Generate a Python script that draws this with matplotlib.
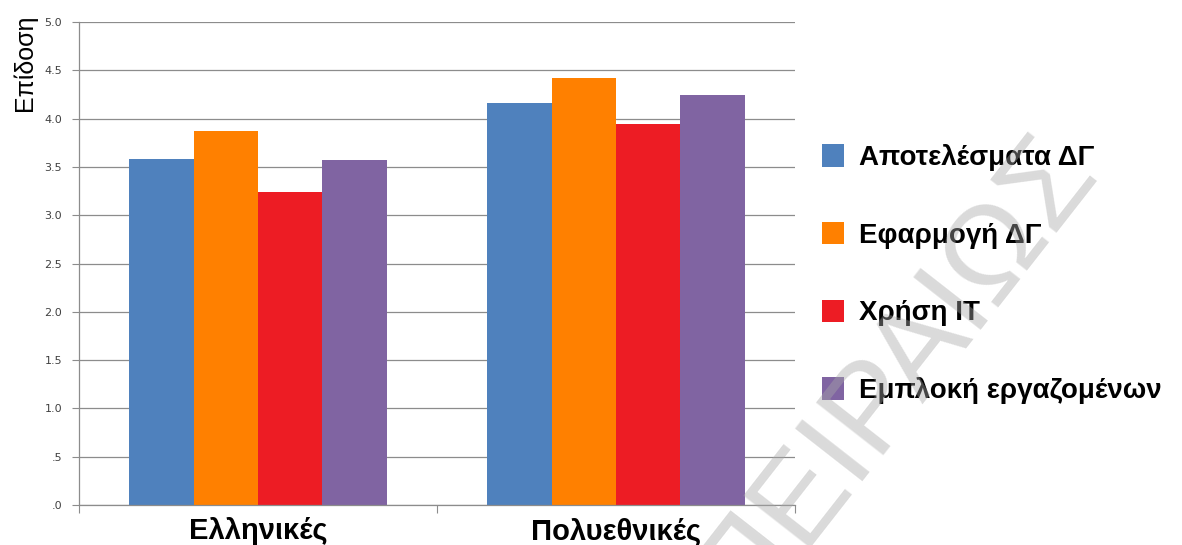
import matplotlib
matplotlib.use("Agg")
import matplotlib.pyplot as plt
import numpy as np
from matplotlib.ticker import FixedLocator, FuncFormatter

plt.rcParams['font.family'] = ['Liberation Sans', 'DejaVu Sans']

categories = ["Ελληνικές", "Πολυεθνικές"]
series_names = ["Αποτελέσματα ΔΓ", "Εφαρμογή ΔΓ", "Χρήση IT", "Εμπλοκή εργαζομένων"]
series_values = [
    [3.58, 4.16],
    [3.87, 4.42],
    [3.24, 3.94],
    [3.57, 4.24],
]
colors = ["#4F81BD", "#FF8000", "#ED1C24", "#8064A2"]
y_ticks = [0.0, 0.5, 1.0, 1.5, 2.0, 2.5, 3.0, 3.5, 4.0, 4.5, 5.0]
y_label = "Επίδοση"
watermark = "ΠΕΙΡΑΙΩΣ"

fig = plt.figure(figsize=(11.82, 5.45), dpi=100)
ax = fig.add_axes([0.0668, 0.0734, 0.6058, 0.8862])

x = np.arange(len(categories))
width = 0.18
offsets = (np.arange(len(series_names)) - (len(series_names) - 1) / 2) * width
for name, vals, col, off in zip(series_names, series_values, colors, offsets):
    ax.bar(x + off, vals, width, color=col, label=name, zorder=2, linewidth=0)

ax.set_xlim(-0.5, len(categories) - 0.5)
ax.set_ylim(0, 5)

# y axis: ".0", ".5", "1.0", ...
ax.yaxis.set_major_locator(FixedLocator(y_ticks))
def fmt(v, pos):
    s = f"{v:.1f}"
    return s[1:] if s.startswith("0") else s
ax.yaxis.set_major_formatter(FuncFormatter(fmt))
ax.tick_params(axis='y', length=5, width=0.8, color='#8c8c8c', labelsize=8,
               labelcolor='#404040', pad=7)
for lbl in ax.get_yticklabels():
    lbl.set_family('DejaVu Sans')
ax.grid(axis='y', color='#8c8c8c', linewidth=0.9, zorder=0)
ax.set_axisbelow(True)

# x axis: labels at categories, tick marks at boundaries
ax.set_xticks(x)
ax.set_xticklabels(categories, fontsize=21, fontweight='bold')
ax.set_xticks(np.arange(-0.5, len(categories)), minor=True)
ax.tick_params(axis='x', which='major', length=0, pad=9)
ax.tick_params(axis='x', which='minor', length=6, width=0.8, color='#8c8c8c')

for side in ('top', 'right'):
    ax.spines[side].set_visible(False)
for side in ('left', 'bottom'):
    ax.spines[side].set_color('#8c8c8c')
    ax.spines[side].set_linewidth(0.9)

fig.text(0.021, 0.884, y_label, rotation=90, fontsize=18, ha='center', va='center')

leg = ax.legend(loc='center left', bbox_to_anchor=(0.6954, 0.497),
                bbox_transform=fig.transFigure, frameon=False,
                prop={'size': 20, 'weight': 'bold'}, labelspacing=1.83,
                handlelength=0.78, handleheight=0.88, handletextpad=0.55,
                borderpad=0, borderaxespad=0)

fig.text(0.758, 0.315, watermark, rotation=52, fontsize=90, color='#a8a8a8',
         alpha=0.42, ha='center', va='center', zorder=10)

fig.savefig("out.png", dpi=100)
